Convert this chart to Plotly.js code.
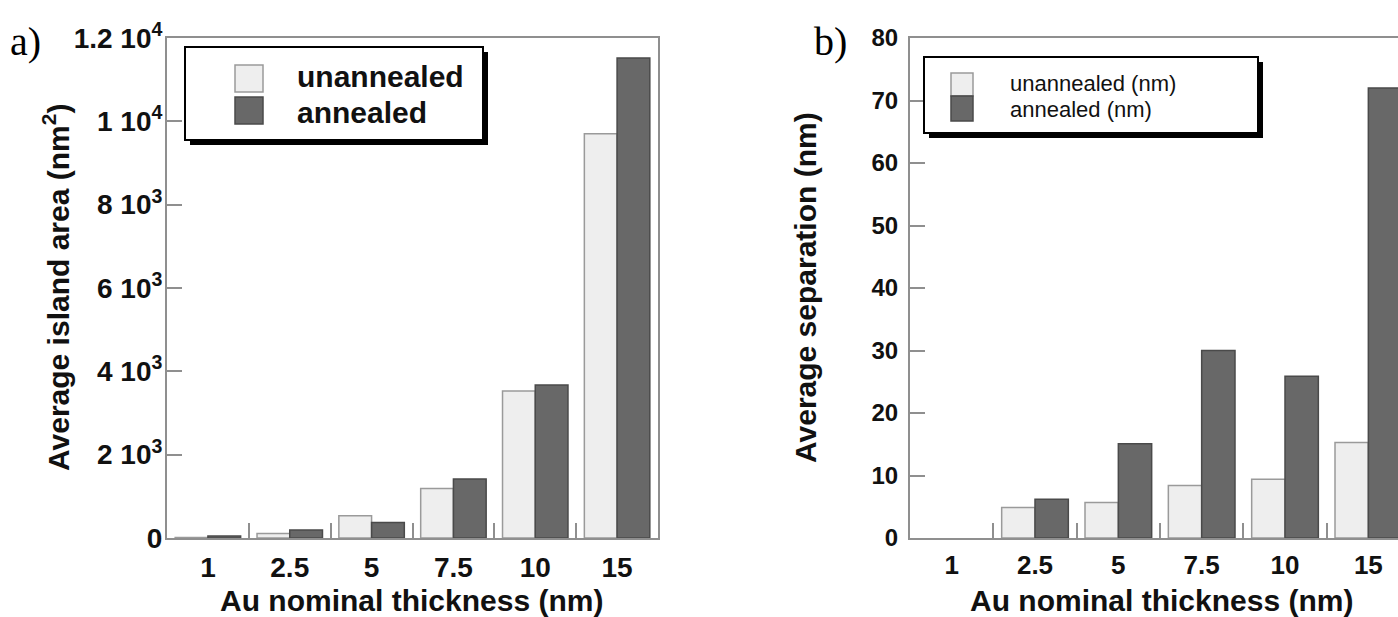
<!DOCTYPE html>
<html>
<head>
<meta charset="utf-8">
<script src="https://cdn.plot.ly/plotly-3.0.1.min.js"></script>
<style>
html,body{margin:0;padding:0;background:#fff;overflow:hidden;}
#chart{width:1398px;height:617px;}
</style>
</head>
<body>
<div id="chart"></div>
<script>
// ---- data ----
const categories = ['1', '2.5', '5', '7.5', '10', '15'];
const seriesNames = ['unannealed', 'annealed'];
const seriesNamesB = ['unannealed (nm)', 'annealed (nm)'];
const areaUnannealed = [15, 110, 535, 1190, 3530, 9700];
const areaAnnealed = [50, 190, 370, 1415, 3670, 11520];
const sepUnannealed = [null, 4.9, 5.7, 8.4, 9.4, 15.3];
const sepAnnealed = [null, 6.2, 15.1, 30.0, 25.9, 72.0];
const areaTickVals = [0, 2000, 4000, 6000, 8000, 10000, 12000];
const areaTickText = ['0', '2 10<sup>3</sup>', '4 10<sup>3</sup>', '6 10<sup>3</sup>', '8 10<sup>3</sup>', '1 10<sup>4</sup>', '1.2 10<sup>4</sup>'];
const sepTickVals = [0, 10, 20, 30, 40, 50, 60, 70, 80];
const sepTickText = ['0', '10', '20', '30', '40', '50', '60', '70', '80'];
const xTitle = 'Au nominal thickness (nm)';
const yTitleA = 'Average island area (nm<sup>2</sup>)';
const yTitleB = 'Average separation (nm)';

// ---- style ----
const W = 1398, H = 617;
const px = x => x / W;
const py = y => 1 - y / H;
const FONT = 'Liberation Sans, Arial, Helvetica, sans-serif';
const LIGHT = '#eeeeee', LIGHT_LINE = '#9a9a9a';
const DARK = '#686868', DARK_LINE = '#4a4a4a';
const AXIS = '#8f8f8f';

const traces = [
  {type: 'bar', x: categories, y: areaUnannealed, name: seriesNames[0], xaxis: 'x', yaxis: 'y',
   marker: {color: LIGHT, line: {color: LIGHT_LINE, width: 1.5}}, showlegend: false},
  {type: 'bar', x: categories, y: areaAnnealed, name: seriesNames[1], xaxis: 'x', yaxis: 'y',
   marker: {color: DARK, line: {color: DARK_LINE, width: 1.5}}, showlegend: false},
  {type: 'bar', x: categories, y: sepUnannealed, name: seriesNamesB[0], xaxis: 'x2', yaxis: 'y2',
   marker: {color: LIGHT, line: {color: LIGHT_LINE, width: 1.5}}, showlegend: false},
  {type: 'bar', x: categories, y: sepAnnealed, name: seriesNamesB[1], xaxis: 'x2', yaxis: 'y2',
   marker: {color: DARK, line: {color: DARK_LINE, width: 1.5}}, showlegend: false}
];

const yDom = [py(538), py(38)];
const xAxisCommon = {
  type: 'category', showgrid: false, zeroline: false,
  showline: true, linecolor: AXIS, linewidth: 2, mirror: true,
  ticks: 'inside', tickson: 'boundaries', ticklen: 15, tickwidth: 2, tickcolor: AXIS,
  ticklabelstandoff: 3, fixedrange: true
};
const yAxisCommon = {
  showgrid: false, zeroline: false, showline: true, linecolor: AXIS, linewidth: 2,
  ticks: 'inside', ticklen: 15, tickwidth: 2, tickcolor: AXIS, tickmode: 'array',
  fixedrange: true
};

const layout = {
  width: W, height: H,
  margin: {l: 0, r: 0, t: 0, b: 0},
  paper_bgcolor: '#ffffff', plot_bgcolor: '#ffffff',
  bargap: 0.2, bargroupgap: 0, barmode: 'group',
  font: {family: FONT, color: '#111'},
  xaxis: Object.assign({}, xAxisCommon, {
    domain: [px(167), px(658)], anchor: 'y', range: [-0.5, 5.5],
    categoryorder: 'array', categoryarray: categories,
    tickfont: {family: FONT, size: 28, weight: 'bold', color: '#111'}
  }),
  yaxis: Object.assign({}, yAxisCommon, {
    domain: yDom, anchor: 'x', range: [0, 12000], mirror: true,
    tickvals: areaTickVals, ticktext: areaTickText, ticklabelstandoff: -3,
    tickfont: {family: FONT, size: 28, weight: 'bold', color: '#111'}
  }),
  xaxis2: Object.assign({}, xAxisCommon, {
    domain: [px(910), 1], anchor: 'y2', range: [-0.5, 5.5 - 12 / 83.3],
    categoryorder: 'array', categoryarray: categories,
    tickfont: {family: FONT, size: 26, weight: 'bold', color: '#111'}
  }),
  yaxis2: Object.assign({}, yAxisCommon, {
    domain: yDom, anchor: 'x2', range: [0, 80], mirror: false,
    tickvals: sepTickVals, ticktext: sepTickText, ticklabelstandoff: 5,
    tickfont: {family: FONT, size: 24, weight: 'bold', color: '#111'}
  }),
  shapes: [],
  annotations: []
};

// legend boxes (drawn with shapes, names from series arrays)
function legendBox(x0, y0, x1, y1, sh) {
  layout.shapes.push({type: 'rect', xref: 'paper', yref: 'paper', layer: 'above',
    x0: px(x0 + sh), x1: px(x1 + sh), y0: py(y0 + sh), y1: py(y1 + sh),
    fillcolor: '#000', line: {width: 0}});
  layout.shapes.push({type: 'rect', xref: 'paper', yref: 'paper', layer: 'above',
    x0: px(x0), x1: px(x1), y0: py(y0), y1: py(y1),
    fillcolor: '#fff', line: {color: '#000', width: 2}});
}
function swatch(x0, y0, x1, y1, fill, line) {
  layout.shapes.push({type: 'rect', xref: 'paper', yref: 'paper', layer: 'above',
    x0: px(x0), x1: px(x1), y0: py(y0), y1: py(y1),
    fillcolor: fill, line: {color: line, width: 1.5}});
}
function label(text, x, y, size, weight, xanchor, extra) {
  layout.annotations.push(Object.assign({text: text, xref: 'paper', yref: 'paper',
    x: px(x), y: py(y), xanchor: xanchor || 'left', yanchor: 'middle', showarrow: false,
    borderpad: 0,
    font: {family: FONT, size: size, weight: weight, color: '#111'}}, extra || {}));
}

// panel a legend
legendBox(185, 47, 483, 140, 5);
swatch(235, 65, 263, 92, LIGHT, LIGHT_LINE);
swatch(235, 97, 263, 124, DARK, DARK_LINE);
label(seriesNames[0], 296, 77, 30, 'bold');
label(seriesNames[1], 296, 112, 30, 'bold');

// panel b legend
legendBox(924, 57, 1258, 133, 5);
swatch(951, 73, 973, 96, LIGHT, LIGHT_LINE);
swatch(951, 96, 973, 121, DARK, DARK_LINE);
label(seriesNamesB[0], 1009, 84, 22, 'normal');
label(seriesNamesB[1], 1009, 109, 22, 'normal');

// axis titles
label(xTitle, 412, 600, 30, 'bold', 'center');
label(xTitle, 1161, 600, 30, 'bold', 'center');
label(yTitleA, 56, 288, 30, 'bold', 'center', {textangle: -90});
label(yTitleB, 805, 288, 30, 'bold', 'center', {textangle: -90});

// panel letters
layout.annotations.push({text: 'a)', xref: 'paper', yref: 'paper', x: px(8), y: py(42),
  xanchor: 'left', yanchor: 'middle', showarrow: false,
  font: {family: 'Liberation Serif, Times New Roman, serif', size: 40, color: '#000'}});
layout.annotations.push({text: 'b)', xref: 'paper', yref: 'paper', x: px(812), y: py(42),
  xanchor: 'left', yanchor: 'middle', showarrow: false,
  font: {family: 'Liberation Serif, Times New Roman, serif', size: 40, color: '#000'}});

Plotly.newPlot('chart', traces, layout, {displayModeBar: false, staticPlot: true});
</script>
</body>
</html>
